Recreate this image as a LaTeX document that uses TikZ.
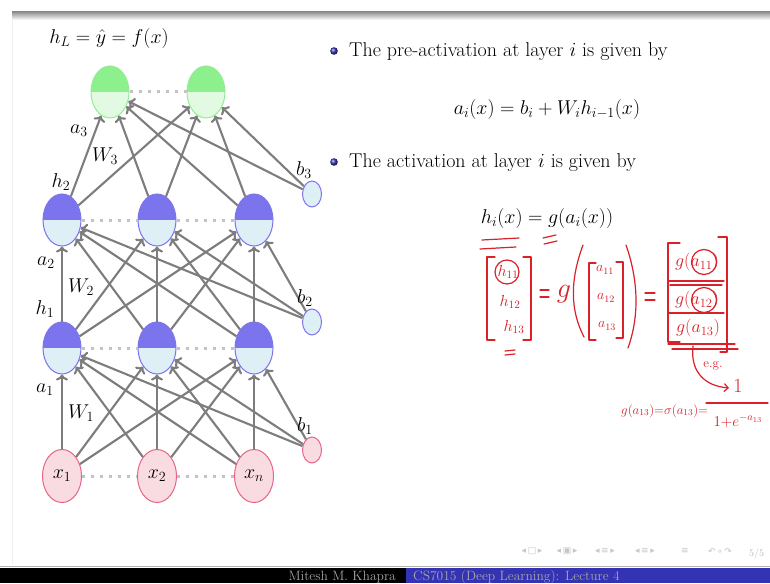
\RequirePackage{fix-cm}
\documentclass[tikz,border=0pt]{standalone}
\usepackage{fontspec}
\newfontfamily\dejavu{DejaVu Sans}
\usetikzlibrary{shapes.geometric,arrows.meta}
\definecolor{hblue}{RGB}{124,116,236}
\definecolor{hlow}{RGB}{222,240,245}
\definecolor{ogreen}{RGB}{140,240,140}
\definecolor{olow}{RGB}{226,250,226}
\definecolor{oborder}{RGB}{150,235,150}
\definecolor{pinkfill}{RGB}{249,219,226}
\definecolor{pinkdraw}{RGB}{232,100,132}
\definecolor{edgegray}{RGB}{125,125,125}
\definecolor{dotgray}{RGB}{195,195,195}
\definecolor{hred}{RGB}{218,32,40}
\definecolor{bblue}{RGB}{51,51,179}
\tikzset{
  every node/.style={font=\fontsize{20}{24}\selectfont, inner sep=0pt},
  hid/.style={ellipse, draw=hblue, line width=1pt, minimum width=38pt, minimum height=52pt, fill=hlow,
    path picture={\fill[hblue] (path picture bounding box.north west) rectangle (path picture bounding box.east);}},
  outn/.style={ellipse, draw=oborder, line width=1pt, minimum width=38pt, minimum height=52pt, fill=olow,
    path picture={\fill[ogreen] (path picture bounding box.north west) rectangle (path picture bounding box.east);}},
  inn/.style={ellipse, draw=pinkdraw, line width=1pt, minimum width=39pt, minimum height=53pt, fill=pinkfill},
  biasb/.style={ellipse, draw=hblue, line width=1pt, minimum width=19pt, minimum height=26pt, fill=hlow},
  biasp/.style={ellipse, draw=pinkdraw, line width=1pt, minimum width=19pt, minimum height=26pt, fill=pinkfill},
  edge/.style={draw=edgegray, line width=2.1pt, -{Computer Modern Rightarrow[length=6pt,width=12pt]}},
  dotline/.style={draw=dotgray, line width=3pt, dash pattern=on 3pt off 6pt},
  lab/.style={font=\fontsize{20}{24}\selectfont},
  hand/.style={draw=hred, line width=1.2pt, line cap=round, line join=round},
  htext/.style={text=hred, font=\fontsize{16}{19}\selectfont},
  hbig/.style={text=hred, font=\fontsize{28}{32}\selectfont},
  navs/.style={text=gray!45, font=\dejavu\fontsize{9}{10}\selectfont},
}
\begin{document}
\begin{tikzpicture}[x=1pt,y=-1pt]
\useasboundingbox (0,0) rectangle (770,583);
\fill[white] (0,0) rectangle (770,583);
% slide frame
\shade[top color=gray!85, bottom color=white] (12,12) rectangle (770,20);
\draw[gray!12] (12,20) -- (12,565);
\draw[gray!60, line width=1pt] (0,566) -- (770,566);
\fill[black] (0,568) rectangle (406,583);
\fill[bblue] (406,568) rectangle (770,583);
\node[anchor=base east, text=gray!70!white, font=\fontsize{13.5}{15}\selectfont] (author) at (396,580.5) {Mitesh M. Khapra};
\node[anchor=base west, text=gray!70!white, font=\fontsize{13.5}{15}\selectfont] (course) at (413,580.5) {CS7015 (Deep Learning): Lecture 4};
\node[navs] (nav1) at (532,551) {◂\,□\,▸};
\node[navs] (nav2) at (567,551) {◂\,▣\,▸};
\node[navs] (nav3) at (605,551) {◂\,≡\,▸};
\node[navs] (nav4) at (645,551) {◂\,≡\,▸};
\node[navs] (nav5) at (685,551) {≡};
\node[navs] (nav6) at (720,551) {↶\,∘\,↷};
\node[anchor=base west, text=gray!55, font=\fontsize{10}{11}\selectfont] (page) at (749,556) {5/5};

% network nodes
\node[outn] (o1) at (110,92) {};
\node[outn] (o2) at (206,92) {};
\node[hid] (h21) at (62,220) {};
\node[hid] (h22) at (157,220) {};
\node[hid] (h23) at (254,220) {};
\node[hid] (h11) at (62,348) {};
\node[hid] (h12) at (157,348) {};
\node[hid] (h13) at (254,348) {};
\node[inn] (x1) at (62,476) {$x_1$};
\node[inn] (x2) at (157,476) {$x_2$};
\node[inn] (xn) at (254,476) {$x_n$};
\node[biasb] (b3) at (312,194) {};
\node[biasb] (b2) at (312,322) {};
\node[biasp] (b1) at (312,450) {};

% dotted links
\draw[dotline] (o1) -- (o2);
\draw[dotline] (h21) -- (h22);
\draw[dotline] (h22) -- (h23);
\draw[dotline] (h11) -- (h12);
\draw[dotline] (h12) -- (h13);
\draw[dotline] (x1) -- (x2);
\draw[dotline] (x2) -- (xn);

% edges
\foreach \s in {x1,x2,xn,b1}
  \foreach \t in {h11,h12,h13}
    \draw[edge] (\s) -- (\t);
\foreach \s in {h11,h12,h13,b2}
  \foreach \t in {h21,h22,h23}
    \draw[edge] (\s) -- (\t);
\foreach \s in {h21,h22,h23,b3}
  \foreach \t in {o1,o2}
    \draw[edge] (\s) -- (\t);

% labels
\node[lab] (lhl) at (109,39) {$h_L=\hat{y}=f(x)$};
\node[lab] (la3) at (79,131) {$a_3$};
\node[lab] (lw3) at (105,156) {$W_3$};
\node[lab] (lh2) at (61,182) {$h_2$};
\node[lab] (lb3) at (304,170) {$b_3$};
\node[lab] (la2) at (46,263) {$a_2$};
\node[lab] (lw2) at (81,287) {$W_2$};
\node[lab] (lh1) at (45,309) {$h_1$};
\node[lab] (lb2) at (305,298) {$b_2$};
\node[lab] (la1) at (45,390) {$a_1$};
\node[lab] (lw1) at (81,413) {$W_1$};
\node[lab] (lb1) at (305,426) {$b_1$};

% bullets and text
\shade[ball color=bblue] (334,51) circle (3.8);
\node[anchor=base west] (t1) at (349,57) {The pre-activation at layer $i$ is given by};
\node[anchor=base] (eq1) at (547,114) {$a_i(x)=b_i+W_ih_{i-1}(x)$};
\shade[ball color=bblue] (334,162) circle (3.8);
\node[anchor=base west] (t2) at (349,167) {The activation at layer $i$ is given by};
\node[anchor=base] (eq2) at (547,223) {$h_i(x)=g(a_i(x))$};

% handwritten annotations
\draw[hand] (482,240) -- (519,238);
\draw[hand] (480,249) -- (516,247);
\draw[hand] (543,238) -- (556,235);
\draw[hand] (544,244) -- (557,241);
% left vector
\draw[hand] (495,257) -- (487,257) -- (487,340) -- (495,340);
\draw[hand] (523,257) -- (531,257) -- (531,340) -- (523,340);
\node[htext] (e11) at (508,272) {$h_{11}$};
\draw[hand] (507,272) circle (12);
\node[htext] (e12) at (510,302) {$h_{12}$};
\node[htext] (e13) at (514,327) {$h_{13}$};
\draw[hand] (505,351) -- (515,350);
\draw[hand] (505,355) -- (515,354);
\draw[hand] (540,290) -- (549,290);
\draw[hand] (540,297) -- (549,297);
\node[hbig] (gg) at (564,294) {$g$};
\draw[hand] (583,245) .. controls (570,280) and (570,310) .. (584,337);
\draw[hand] (626,245) .. controls (640,285) and (638,320) .. (628,348);
% inner vector
\draw[hand] (596,263) -- (589,263) -- (589,340) -- (596,340);
\draw[hand] (616,262) -- (623,262) -- (623,338) -- (616,338);
\node[htext, font=\fontsize{14}{16}\selectfont] (f11) at (605,270) {$a_{11}$};
\node[htext, font=\fontsize{14}{16}\selectfont] (f12) at (606,298) {$a_{12}$};
\node[htext, font=\fontsize{14}{16}\selectfont] (f13) at (607,326) {$a_{13}$};
\draw[hand] (645,293) -- (655,293);
\draw[hand] (645,300) -- (655,300);
% right vector
\draw[hand] (680,243) -- (668,243) -- (668,342) -- (680,342);
\draw[hand] (718,237) -- (727,237) -- (727,352) -- (720,352);
\node[htext, font=\fontsize{18}{21}\selectfont] (g11) at (697,262) {$g(a_{11})$};
\draw[hand] (704,262) circle (12.5);
\draw[hand] (668,281) -- (724,281);
\draw[hand] (670,285) -- (722,285);
\node[htext, font=\fontsize{18}{21}\selectfont] (g12) at (697,300) {$g(a_{12})$};
\draw[hand] (704,300) circle (12.5);
\draw[hand] (668,313) -- (724,313);
\node[htext, font=\fontsize{18}{21}\selectfont] (g13) at (698,328) {$g(a_{13})$};
\draw[hand] (668,344) -- (735,344);
\draw[hand] (672,349) -- (738,349);
\coordinate (arrs) at (693,346);
\coordinate (arre) at (729,388);
\draw[hand, -{Straight Barb[length=4pt,width=8pt]}] (arrs) .. controls (690,372) and (705,386) .. (arre);
\node[htext, font=\fontsize{13}{15}\selectfont] (eg) at (713,366) {e.g.};
\node[htext, anchor=base west, font=\fontsize{13}{15}\selectfont] (fin) at (621,414) {$g(a_{13}){=}\sigma(a_{13}){=}$};
\node[htext, font=\fontsize{20}{24}\selectfont] (num) at (738,386) {$1$};
\draw[hand] (706,403) -- (768,403);
\node[htext, font=\fontsize{15}{18}\selectfont] (den) at (738,421) {$1{+}e^{-a_{13}}$};
\end{tikzpicture}
\end{document}
